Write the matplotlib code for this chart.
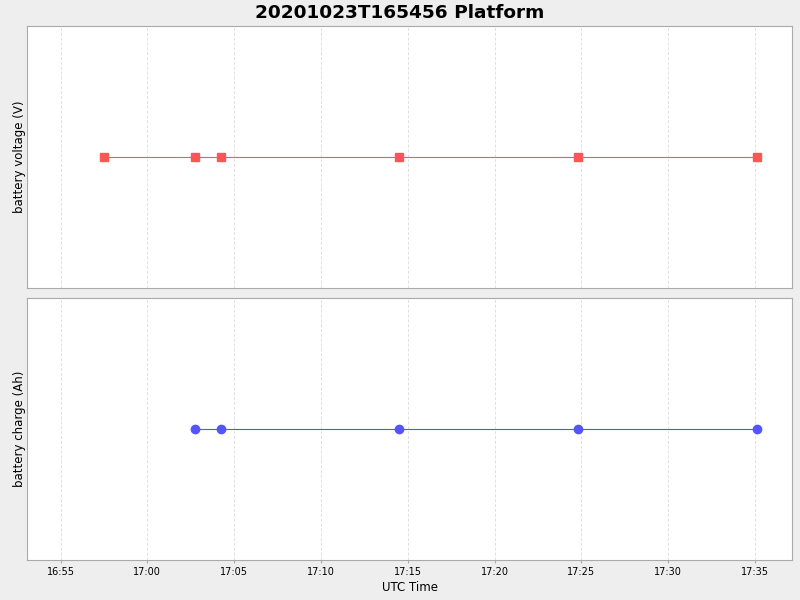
import numpy as np
import matplotlib
matplotlib.use("Agg")
import matplotlib.pyplot as plt
import matplotlib.dates as mdates
from datetime import datetime

# sample times (UTC)
volt_times = ["16:57:30", "17:02:45", "17:04:13", "17:14:30", "17:24:49", "17:35:07"]
volt_values = [12.0, 12.0, 12.0, 12.0, 12.0, 12.0]
charge_times = ["17:02:45", "17:04:13", "17:14:30", "17:24:49", "17:35:07"]
charge_values = [50.0, 50.0, 50.0, 50.0, 50.0]

x_start = "16:53:04"
x_end = "17:37:08"


def to_dt(s):
    return datetime.strptime("2020-10-23 " + s, "%Y-%m-%d %H:%M:%S")


vt = [to_dt(t) for t in volt_times]
ct = [to_dt(t) for t in charge_times]

fig = plt.figure(figsize=(8, 6), dpi=100, facecolor="#EEEEEE")
ax1 = fig.add_axes([0.03375, 0.52, 0.95625, 0.4367])
ax2 = fig.add_axes([0.03375, 0.0667, 0.95625, 0.4366])

fig.text(0.5, 0.979, "20201023T165456 Platform", ha="center", va="center",
         fontsize=13.3, fontweight="bold")

ax1.plot(vt, volt_values, color="#FF5555", lw=0.8, marker="s", ms=6, zorder=3)
ax2.plot(ct, charge_values, color="#5555FF", lw=0.8, marker="o", ms=6, zorder=3)

ax1.set_ylim(volt_values[0] - 1, volt_values[0] + 1)
ax2.set_ylim(charge_values[0] - 1, charge_values[0] + 1)
ax1.set_ylabel("battery voltage (V)", fontsize=8.5, labelpad=1)
ax2.set_ylabel("battery charge (Ah)", fontsize=8.5, labelpad=1)
ax2.set_xlabel("UTC Time", fontsize=8.5, labelpad=3)

for ax in (ax1, ax2):
    ax.set_facecolor("white")
    ax.set_xlim(to_dt(x_start), to_dt(x_end))
    ax.xaxis.set_major_locator(mdates.MinuteLocator(byminute=range(0, 60, 5)))
    ax.xaxis.set_major_formatter(mdates.DateFormatter("%H:%M"))
    ax.grid(axis="x", color="#E0E0E0", ls=(0, (3, 2)), lw=0.7)
    ax.set_yticks([])
    for sp in ax.spines.values():
        sp.set_color("#AAAAAA")
    ax.tick_params(axis="x", labelsize=7, length=2, color="#AAAAAA", pad=3)

ax1.tick_params(axis="x", labelbottom=False, length=0)

fig.savefig("out.png", dpi=100, facecolor=fig.get_facecolor())
